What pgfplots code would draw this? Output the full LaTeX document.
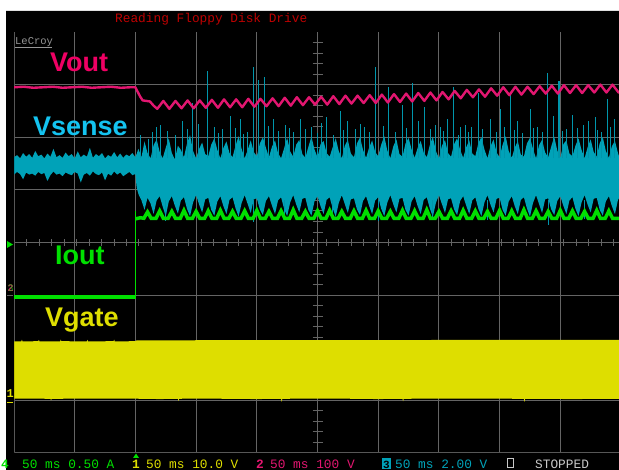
\documentclass[border=0pt]{standalone}
\usepackage{pgfplots}
\pgfplotsset{compat=1.18}
\usepgfplotslibrary{fillbetween}
\usepackage{fontspec}
\setmainfont{Liberation Sans}
\newfontfamily\monof{Liberation Mono}
\definecolor{gridc}{RGB}{100,100,100}
\definecolor{voutc}{RGB}{226,22,112}
\definecolor{voutlab}{RGB}{240,0,100}
\definecolor{vsc}{RGB}{0,162,184}
\definecolor{vspk}{RGB}{0,150,172}
\definecolor{vslab}{RGB}{20,195,240}
\definecolor{ioc}{RGB}{0,224,0}
\definecolor{vgc}{RGB}{222,222,0}
\definecolor{titlec}{RGB}{190,0,0}
\definecolor{lecroyc}{RGB}{150,150,150}
\definecolor{stopc}{RGB}{200,200,200}
\begin{document}
\begin{tikzpicture}
\fill[white] (0pt,0pt) rectangle (619pt,-11pt);
\fill[white] (0pt,-11pt) rectangle (6pt,-470pt);
\fill[black, even odd rule] (6pt,-11pt) rectangle (619pt,-470pt) (14pt,-32pt) rectangle (619pt,-453pt);
\begin{axis}[at={(14pt,-32pt)}, anchor=north west, set layers,
  width=605pt, height=421pt, scale only axis,
  xmin=0, xmax=498.35, ymin=-4, ymax=4,
  axis background/.style={fill=black},
  axis line style={draw=none},
  xtick={0,50,...,450}, ytick={-4,-3,...,4},
  xticklabels={}, yticklabels={},
  major tick length=0pt,
  grid=major, major grid style={draw=gridc, line width=1pt},
  unbounded coords=jump]
\begin{pgfonlayer}{axis grid}
\pgfplotsinvokeforeach{1,...,49}{\draw[gridc, line width=0.9pt] (axis cs:#1*10.2917,-0.0665) -- (axis cs:#1*10.2917,0.0665);}
\pgfplotsinvokeforeach{1,...,39}{\draw[gridc, line width=0.9pt] (axis cs:246,{4-#1*0.2}) -- (axis cs:254.3,{4-#1*0.2});}
\end{pgfonlayer}
% ---------------- Vgate (channel 1)
\addplot[draw=none, name path=gt, forget plot] coordinates {
(0,-1.88)(6,-1.88)(6.5,-1.845)(7,-1.88)(20,-1.875)(20.5,-1.85)(21,-1.88)(38,-1.88)(38.5,-1.845)(39,-1.875)
(60,-1.88)(60.5,-1.85)(61,-1.88)(82,-1.875)(82.5,-1.845)(83,-1.88)(100,-1.875)(101,-1.86)
(200,-1.855)(300,-1.855)(400,-1.85)(498.35,-1.85)};
\addplot[draw=none, name path=gb, forget plot] coordinates {
(0,-2.965)(30,-2.97)(30.5,-3.0)(31,-2.97)(90,-2.965)(120,-2.975)(135,-2.97)(135.5,-3.01)(136,-2.97)
(150,-2.965)(200,-2.975)(220,-2.97)(220.5,-3.03)(221,-2.97)(260,-2.965)(300,-2.975)(320,-2.97)(320.5,-3.02)(321,-2.97)
(360,-2.965)(420,-2.97)(420.5,-3.03)(421,-2.97)(460,-2.975)(498.35,-2.97)};
\addplot[fill=vgc, draw=none] fill between[of=gt and gb];
% ---------------- Vsense (channel 3)
\addplot[draw=none, name path=cu, forget plot] coordinates {
(0,1.62)(2.5,1.66)(5,1.60)(7.5,1.70)(10,1.63)(12.5,1.68)(15,1.61)(17.5,1.74)(20,1.64)(22.5,1.67)
(25,1.60)(27.5,1.69)(30,1.63)(32.5,1.78)(35,1.62)(37.5,1.66)(40,1.61)(42.5,1.71)(45,1.64)(47.5,1.68)
(50,1.60)(52.5,1.73)(55,1.62)(57.5,1.67)(60,1.63)(62.5,1.80)(65,1.61)(67.5,1.68)(70,1.64)(72.5,1.70)
(75,1.60)(77.5,1.66)(80,1.63)(82.5,1.72)(85,1.62)(87.5,1.69)(90,1.61)(92.5,1.67)(95,1.64)(97.5,1.70)(100,1.62)
(102.5,1.78)(105,1.62)(107.5,1.92)(110,1.70)(112.5,1.60)(115,1.85)(117.5,1.96)(120,1.72)(122.5,1.60)(125,1.80)(127.5,1.98)(130,1.70)
(132.5,1.58)(135,1.84)(137.5,1.76)(140,1.62)(142.5,1.88)(145,2.04)(147.5,1.74)(150,1.60)(152.5,1.78)(155,1.90)(157.5,1.68)(160,1.64)
(162.5,1.86)(165,1.98)(167.5,1.76)(170,1.60)(172.5,1.80)(175,1.92)(177.5,1.70)(180,1.62)(182.5,1.84)(185,2.02)(187.5,1.78)(190,1.60)
(192.5,1.76)(195,1.94)(197.5,1.72)(200,1.64)(202.5,1.88)(205,2.00)(207.5,1.80)(210,1.62)(212.5,1.82)(215,1.94)(217.5,1.70)(220,1.60)
(222.5,1.79)(225,1.99)(227.5,1.73)(230,1.63)(232.5,1.86)(235,1.95)(237.5,1.68)(240,1.61)(242.5,1.82)(245,2.01)(247.5,1.77)(250,1.62)
(252.5,1.87)(255,1.93)(257.5,1.70)(260,1.63)(262.5,1.81)(265,1.98)(267.5,1.74)(270,1.60)(272.5,1.84)(275,1.95)(277.5,1.69)(280,1.62)
(282.5,1.88)(285,2.00)(287.5,1.76)(290,1.61)(292.5,1.80)(295,1.94)(297.5,1.72)(300,1.64)(302.5,1.86)(305,2.02)(307.5,1.75)(310,1.60)
(312.5,1.83)(315,1.96)(317.5,1.68)(320,1.63)(322.5,1.88)(325,1.99)(327.5,1.77)(330,1.61)(332.5,1.80)(335,1.93)(337.5,1.71)(340,1.62)
(342.5,1.85)(345,2.01)(347.5,1.74)(350,1.60)(352.5,1.84)(355,1.95)(357.5,1.70)(360,1.63)(362.5,1.87)(365,1.98)(367.5,1.76)(370,1.61)
(372.5,1.81)(375,1.94)(377.5,1.69)(380,1.64)(382.5,1.89)(385,2.00)(387.5,1.77)(390,1.60)(392.5,1.83)(395,1.96)(397.5,1.71)(400,1.62)
(402.5,1.86)(405,2.02)(407.5,1.74)(410,1.61)(412.5,1.80)(415,1.93)(417.5,1.67)(420,1.63)(422.5,1.88)(425,1.99)(427.5,1.78)(430,1.60)
(432.5,1.85)(435,1.95)(437.5,1.71)(440,1.62)(442.5,1.82)(445,2.01)(447.5,1.75)(450,1.61)(452.5,1.87)(455,1.94)(457.5,1.69)(460,1.64)
(462.5,1.84)(465,1.98)(467.5,1.76)(470,1.60)(472.5,1.81)(475,1.96)(477.5,1.72)(480,1.63)(482.5,1.89)(485,2.00)(487.5,1.74)(490,1.61)
(492.5,1.83)(495,1.93)(497.5,1.70)(498.35,1.64)};
\addplot[draw=none, name path=cl, forget plot] coordinates {
(0,1.29)(2.5,1.34)(5,1.30)(7.5,1.20)(10,1.33)(12.5,1.29)(15,1.31)(17.5,1.27)(20,1.34)(22.5,1.30)
(25,1.32)(27.5,1.17)(30,1.28)(32.5,1.35)(35,1.29)(37.5,1.31)(40,1.26)(42.5,1.33)(45,1.30)(47.5,1.28)
(50,1.34)(52.5,1.31)(55,1.14)(57.5,1.29)(60,1.32)(62.5,1.27)(65,1.35)(67.5,1.30)(70,1.28)(72.5,1.33)
(75,1.18)(77.5,1.31)(80,1.27)(82.5,1.35)(85,1.29)(87.5,1.33)(90,1.26)(92.5,1.30)(95,1.34)(97.5,1.28)(100,1.30)
(101,1.05)(102.5,0.92)(105,0.80)(107.5,0.62)(110,0.85)(112.5,0.74)(115,0.54)(117.5,0.80)(120,0.88)(122.5,0.68)(125,0.50)(127.5,0.78)
(130,0.88)(132.5,0.70)(135,0.55)(137.5,0.80)(140,0.86)(142.5,0.64)(145,0.50)(147.5,0.76)
(150,0.90)(152.5,0.72)(155,0.57)(157.5,0.82)(160,0.85)(162.5,0.62)(165,0.51)(167.5,0.78)
(170,0.88)(172.5,0.69)(175,0.54)(177.5,0.81)(180,0.86)(182.5,0.65)(185,0.49)(187.5,0.75)
(190,0.90)(192.5,0.73)(195,0.56)(197.5,0.82)(200,0.84)(202.5,0.63)(205,0.52)(207.5,0.79)
(210,0.88)(212.5,0.70)(215,0.54)(217.5,0.80)(220,0.86)(222.5,0.64)(225,0.50)(227.5,0.76)
(230,0.90)(232.5,0.72)(235,0.57)(237.5,0.83)(240,0.85)(242.5,0.62)(245,0.51)(247.5,0.78)
(250,0.88)(252.5,0.69)(255,0.54)(257.5,0.81)(260,0.86)(262.5,0.65)(265,0.49)(267.5,0.75)
(270,0.90)(272.5,0.73)(275,0.56)(277.5,0.82)(280,0.84)(282.5,0.63)(285,0.52)(287.5,0.79)
(290,0.88)(292.5,0.70)(295,0.54)(297.5,0.80)(300,0.86)(302.5,0.64)(305,0.50)(307.5,0.76)
(310,0.90)(312.5,0.72)(315,0.57)(317.5,0.83)(320,0.85)(322.5,0.62)(325,0.51)(327.5,0.78)
(330,0.88)(332.5,0.69)(335,0.54)(337.5,0.81)(340,0.86)(342.5,0.65)(345,0.49)(347.5,0.75)
(350,0.90)(352.5,0.73)(355,0.56)(357.5,0.82)(360,0.84)(362.5,0.63)(365,0.52)(367.5,0.79)
(370,0.88)(372.5,0.70)(375,0.54)(377.5,0.80)(380,0.86)(382.5,0.64)(385,0.50)(387.5,0.76)
(390,0.90)(392.5,0.72)(395,0.57)(397.5,0.83)(400,0.85)(402.5,0.62)(405,0.51)(407.5,0.78)
(410,0.88)(412.5,0.69)(415,0.54)(417.5,0.81)(420,0.86)(422.5,0.65)(425,0.49)(427.5,0.75)
(430,0.90)(432.5,0.73)(435,0.56)(437.5,0.82)(440,0.84)(442.5,0.63)(445,0.52)(447.5,0.79)
(450,0.88)(452.5,0.70)(455,0.54)(457.5,0.80)(460,0.86)(462.5,0.64)(465,0.50)(467.5,0.76)
(470,0.90)(472.5,0.72)(475,0.57)(477.5,0.83)(480,0.85)(482.5,0.62)(485,0.51)(487.5,0.78)
(490,0.88)(492.5,0.69)(495,0.54)(497.5,0.81)(498.35,0.84)};
\addplot[fill=vsc, draw=none] fill between[of=cu and cl];
% spikes of Vsense
\addplot[vspk, line width=0.9pt] coordinates {
(104,1.6)(104,2.05)(104,nan) (110.4,1.6)(110.4,1.96)(110.4,nan) (114,1.6)(114,2.10)(114,nan)
(117,1.6)(117,2.20)(117,nan) (120.3,1.6)(120.3,2.24)(120.3,nan) (126,1.6)(126,2.12)(126,nan)
(132.6,1.6)(132.6,2.05)(132.6,nan) (139,1.6)(139,2.30)(139,nan) (143,1.6)(143,2.15)(143,nan)
(147.4,1.6)(147.4,2.66)(147.4,nan) (152,1.6)(152,2.25)(152,nan) (159,1.6)(159,3.25)(159,nan)
(165,1.6)(165,2.20)(165,nan) (168,1.6)(168,2.08)(168,nan) (171.3,1.6)(171.3,2.15)(171.3,nan)
(178,1.6)(178,2.40)(178,nan) (182,1.6)(182,2.18)(182,nan) (186.2,1.6)(186.2,2.34)(186.2,nan)
(189,1.6)(189,2.06)(189,nan) (192,1.6)(192,2.10)(192,nan)
(196.9,1.6)(196.9,3.33)(196.9,nan) (201,1.6)(201,3.08)(201,nan) (206.7,1.6)(206.7,3.15)(206.7,nan)
(210,1.6)(210,2.22)(210,nan) (214,1.6)(214,2.35)(214,nan) (218,1.6)(218,2.12)(218,nan)
(223.2,1.6)(223.2,2.24)(223.2,nan) (227,1.6)(227,2.18)(227,nan) (230,1.6)(230,2.10)(230,nan)
(235.6,1.6)(235.6,2.34)(235.6,nan) (240,1.6)(240,2.16)(240,nan) (245,1.6)(245,2.20)(245,nan)
(250,1.6)(250,2.08)(250,nan) (253,1.6)(253,2.27)(253,nan) (257,1.6)(257,2.39)(257,nan)
(263,1.6)(263,2.05)(263,nan) (268.5,1.6)(268.5,2.49)(268.5,nan) (271,1.6)(271,2.14)(271,nan)
(275,1.6)(275,2.30)(275,nan) (280.9,1.6)(280.9,2.15)(280.9,nan) (285,1.6)(285,2.26)(285,nan)
(289,1.6)(289,2.20)(289,nan) (293,1.6)(293,2.10)(293,nan) (297.4,1.6)(297.4,3.33)(297.4,nan)
(304,1.6)(304,2.22)(304,nan) (308.1,1.6)(308.1,2.95)(308.1,nan) (314,1.6)(314,2.10)(314,nan)
(319.6,1.6)(319.6,2.62)(319.6,nan) (323,1.6)(323,2.18)(323,nan)
(327.8,1.6)(327.8,3.04)(327.8,nan) (333,1.6)(333,2.30)(333,nan) (338.5,1.6)(338.5,2.58)(338.5,nan)
(343,1.6)(343,2.15)(343,nan) (347,1.6)(347,2.24)(347,nan) (350.9,1.6)(350.9,2.20)(350.9,nan)
(354,1.6)(354,2.12)(354,nan) (357,1.6)(357,2.35)(357,nan)
(361.6,1.6)(361.6,2.96)(361.6,nan) (366,1.6)(366,2.05)(366,nan) (368,1.6)(368,2.20)(368,nan)
(371.5,1.6)(371.5,2.24)(371.5,nan) (374,1.6)(374,2.10)(374,nan)
(377,1.6)(377,2.20)(377,nan) (382.2,1.6)(382.2,2.85)(382.2,nan) (386,1.6)(386,2.16)(386,nan)
(392.1,1.6)(392.1,2.34)(392.1,nan)
(397,1.6)(397,2.10)(397,nan) (400.3,1.6)(400.3,2.53)(400.3,nan) (404,1.6)(404,2.20)(404,nan)
(408.6,1.6)(408.6,2.81)(408.6,nan) (412,1.6)(412,2.14)(412,nan)
(415,1.6)(415,2.30)(415,nan) (419,1.6)(419,2.08)(419,nan) (425,1.6)(425,2.53)(425,nan)
(428,1.6)(428,2.18)(428,nan) (431,1.6)(431,2.20)(431,nan) (435,1.6)(435,2.10)(435,nan)
(439,1.6)(439,3.23)(439,nan) (444,1.6)(444,2.40)(444,nan) (448.1,1.6)(448.1,3.06)(448.1,nan)
(449.7,1.6)(449.7,3.06)(449.7,nan) (452,1.6)(452,2.12)(452,nan) (455,1.6)(455,2.15)(455,nan)
(459.6,1.6)(459.6,2.43)(459.6,nan) (464,1.6)(464,2.18)(464,nan)
(468.7,1.6)(468.7,2.24)(468.7,nan) (473,1.6)(473,2.30)(473,nan) (478.6,1.6)(478.6,2.38)(478.6,nan)
(481,1.6)(481,2.14)(481,nan) (484,1.6)(484,2.10)(484,nan) (488.5,1.6)(488.5,2.72)(488.5,nan)
(491,1.6)(491,2.20)(491,nan) (495,1.6)(495,2.34)(495,nan)
(125,0.8)(125,0.40)(125,nan) (197,0.8)(197,0.38)(197,nan) (223,0.8)(223,0.45)(223,nan)
(262,0.8)(262,0.42)(262,nan) (300,0.8)(300,0.40)(300,nan) (345,0.8)(345,0.45)(345,nan)
(390,0.8)(390,0.42)(390,nan) (440,0.8)(440,0.34)(440,nan) (470,0.8)(470,0.45)};
% ---------------- Iout (channel 4)
\addplot[ioc, line width=4pt] coordinates {(0,-1.035)(100.3,-1.035)};
\addplot[ioc, line width=1.2pt] coordinates {(100.3,-1.07)(100.3,0.60)};
\addplot[ioc, line width=3.5pt] coordinates {
(100.3,0.45)(104,0.47)(107,0.46)(110,0.58)(113,0.46)(117,0.46)(120,0.60)(123,0.46)(127,0.46)(130,0.59)(133,0.46)
(137,0.46)(140,0.61)(143,0.46)(147,0.46)(150,0.59)(153,0.46)(157,0.46)(160,0.60)(163,0.46)(167,0.46)(170,0.61)(173,0.46)
(177,0.46)(180,0.59)(183,0.46)(187,0.46)(190,0.60)(193,0.46)(197,0.46)(200,0.61)(203,0.46)(207,0.46)(210,0.59)(213,0.46)
(217,0.46)(220,0.60)(223,0.46)(227,0.46)(230,0.62)(233,0.46)(237,0.46)(240,0.59)(243,0.46)(247,0.46)(250,0.60)(253,0.46)
(257,0.46)(260,0.61)(263,0.46)(267,0.46)(270,0.59)(273,0.46)(277,0.46)(280,0.60)(283,0.46)(287,0.46)(290,0.61)(293,0.46)
(297,0.46)(300,0.60)(303,0.46)(307,0.46)(310,0.59)(313,0.46)(317,0.46)(320,0.61)(323,0.46)(327,0.46)(330,0.60)(333,0.46)
(337,0.46)(340,0.62)(343,0.46)(347,0.46)(350,0.59)(353,0.46)(357,0.46)(360,0.60)(363,0.46)(367,0.46)(370,0.61)(373,0.46)
(377,0.46)(380,0.60)(383,0.46)(387,0.46)(390,0.59)(393,0.46)(397,0.46)(400,0.61)(403,0.46)(407,0.46)(410,0.60)(413,0.46)
(417,0.46)(420,0.62)(423,0.46)(427,0.46)(430,0.60)(433,0.46)(437,0.46)(440,0.59)(443,0.46)(447,0.46)(450,0.61)(453,0.46)
(457,0.46)(460,0.60)(463,0.46)(467,0.46)(470,0.59)(473,0.46)(477,0.46)(480,0.61)(483,0.46)(487,0.46)(490,0.60)(493,0.46)
(498.35,0.46)};
% ---------------- Vout (channel 2)
\addplot[voutc, line width=2.4pt, line join=round] coordinates {
(0,2.95)(8,2.96)(16,2.94)(24,2.95)(32,2.96)(40,2.94)(48,2.95)(56,2.96)(64,2.94)(72,2.95)(80,2.96)(88,2.94)(96,2.95)(100,2.95)
(101.5,2.88)(104,2.77)(106,2.70)(109,2.69)(112,2.68)(115,2.60)
(118,2.54)(123,2.69)(128,2.54)(133,2.69)(138,2.55)(143,2.70)(148,2.55)(153,2.70)(158,2.56)(163,2.71)(168,2.56)(173,2.72)
(178,2.57)(183,2.72)(188,2.57)(193,2.73)(198,2.58)(203,2.73)(208,2.59)(213,2.74)(218,2.59)(223,2.75)(228,2.60)(233,2.76)
(238,2.61)(243,2.76)(248,2.62)(253,2.77)(258,2.62)(263,2.78)(268,2.63)(273,2.79)(278,2.64)(283,2.79)(288,2.65)(293,2.80)
(298,2.65)(303,2.81)(308,2.66)(313,2.82)(318,2.67)(323,2.83)(328,2.68)(333,2.84)(338,2.69)(343,2.85)(348,2.70)(353,2.86)
(358,2.72)(363,2.88)(368,2.74)(373,2.90)(378,2.76)(383,2.91)(388,2.77)(393,2.93)(398,2.79)(403,2.95)(408,2.80)(413,2.96)
(418,2.81)(423,2.96)(428,2.82)(433,2.97)(438,2.83)(443,2.98)(448,2.83)(453,2.99)(458,2.84)(463,2.99)(468,2.84)(473,2.99)
(478,2.85)(483,3.00)(488,2.85)(493,3.00)(498,2.85)(498.35,2.86)};
\end{axis}
% ---------------- labels
\node[anchor=base west, inner sep=0pt, text=voutlab, font=\fontsize{27}{27}\selectfont\bfseries] at (50pt,-72pt) {Vout};
\node[anchor=base west, inner sep=0pt, text=vslab, font=\fontsize{27}{27}\selectfont\bfseries] at (33pt,-136pt) {Vsense};
\node[anchor=base west, inner sep=0pt, text=ioc, font=\fontsize{27}{27}\selectfont\bfseries] at (55pt,-265pt) {Iout};
\node[anchor=base west, inner sep=0pt, text=vgc, font=\fontsize{27}{27}\selectfont\bfseries] at (45pt,-326.5pt) {Vgate};
\node[anchor=base west, inner sep=0pt, text=titlec, font=\monof\fontsize{12.8}{13}\selectfont] at (115pt,-22.5pt) {Reading Floppy Disk Drive};
\node[anchor=base west, inner sep=0pt, text=lecroyc, font=\monof\fontsize{10.5}{11}\selectfont] at (15pt,-45pt) {LeCroy};
\draw[lecroyc, line width=1pt] (15pt,-48pt) -- (52pt,-48pt);
% channel markers
\fill[ioc] (7pt,-241pt) -- (13pt,-244.5pt) -- (7pt,-248pt) -- cycle;
\node[anchor=base west, inner sep=0pt, text=voutc, font=\monof\bfseries\fontsize{10}{10}\selectfont] at (7.5pt,-292pt) {2};
\node[anchor=base west, inner sep=0pt, text=ioc, font=\monof\fontsize{10}{10}\selectfont, opacity=0.7] at (7.5pt,-292pt) {3};
\draw[gridc, line width=1pt] (7pt,-296pt) -- (13pt,-296pt);
\node[anchor=base west, inner sep=0pt, text=vgc, font=\monof\bfseries\fontsize{12}{12}\selectfont] at (6.5pt,-398pt) {1};
\draw[vgc, line width=1pt] (7pt,-402.5pt) -- (13pt,-402.5pt);
\fill[ioc] (133pt,-458pt) -- (139pt,-458pt) -- (136pt,-453.5pt) -- cycle;
% status line
\begin{scope}[every node/.style={anchor=base west, inner sep=0pt, font=\monof\fontsize{12.8}{13}\selectfont}]
\node[text=ioc, font=\monof\bfseries\fontsize{12.8}{13}\selectfont] at (1pt,-468pt) {4};
\node[text=ioc] at (22pt,-468pt) {50 ms 0.50 A};
\node[text=vgc, font=\monof\bfseries\fontsize{12.8}{13}\selectfont] at (132pt,-468pt) {1};
\node[text=vgc] at (146pt,-468pt) {50 ms 10.0 V};
\node[text=voutc, font=\monof\bfseries\fontsize{12.8}{13}\selectfont] at (256pt,-468pt) {2};
\node[text=voutc] at (270pt,-468pt) {50 ms 100 V};
\fill[vsc] (382pt,-458.5pt) rectangle (391pt,-469pt);
\node[text=black, font=\monof\bfseries\fontsize{11}{11}\selectfont] at (383pt,-468pt) {3};
\node[text=vsc] at (395pt,-468pt) {50 ms 2.00 V};
\draw[stopc, line width=1pt] (507.5pt,-459pt) rectangle (513.5pt,-467.5pt);
\node[text=stopc] at (535pt,-468pt) {STOPPED};
\end{scope}
\pgfresetboundingbox
\useasboundingbox (0pt,0pt) rectangle (619pt,-470pt);
\end{tikzpicture}
\end{document}
